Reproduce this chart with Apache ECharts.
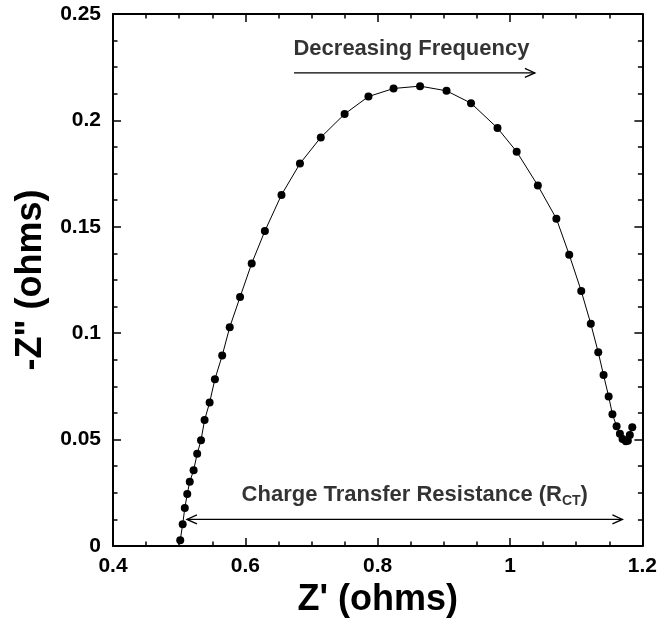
<!DOCTYPE html>
<html>
<head>
<meta charset="utf-8">
<script src="https://cdn.jsdelivr.net/npm/echarts@6/dist/echarts.min.js"></script>
<style>html,body{margin:0;padding:0;background:#fff}#c{width:660px;height:623px}</style>
</head>
<body>
<div id="c"></div>
<script>
// Nyquist data: Z' (ohms) and -Z'' (ohms), ordered by decreasing frequency
var zReal = [0.5016,0.5053,0.5085,0.5122,0.5160,0.5218,0.5272,0.5330,0.5384,0.5460,
             0.5540,0.5650,0.5764,0.5920,0.6096,0.6295,0.6546,0.6825,0.7140,0.7500,
             0.7860,0.8240,0.8640,0.9040,0.9410,0.9810,1.0100,1.0420,1.0700,1.0894,
             1.1076,1.1220,1.1333,1.1413,1.1490,1.1547,1.1610,1.1660,1.1700,1.1750,
             1.1780,1.1810,1.1847];
var zImag = [0.0027,0.0102,0.0178,0.0244,0.0302,0.0356,0.0433,0.0497,0.0592,0.0674,
             0.0784,0.0895,0.1028,0.1170,0.1328,0.1480,0.1650,0.1797,0.1920,0.2030,
             0.2112,0.2150,0.2161,0.2139,0.2081,0.1964,0.1853,0.1694,0.1538,0.1369,
             0.1198,0.1044,0.0910,0.0803,0.0703,0.0619,0.0563,0.0527,0.0503,0.0492,
             0.0495,0.0522,0.0558];

var xTickLabels = ['0.4','0.6','0.8','1','1.2'];
var yTickLabels = ['0','0.05','0.1','0.15','0.2','0.25'];

// annotation arrows: start x, end x, y, double-headed
var arrowStartX = [0.6735, 0.5117];
var arrowEndX   = [1.0375, 1.1698];
var arrowY      = [0.2223, 0.0125];
var arrowBoth   = [0, 1];

// annotation texts
var noteTexts = ['{b|Decreasing Frequency}', '{b|Charge Transfer Resistance (R}{s|CT}{b|)}'];
var noteX = [0.851, 0.856];
var noteY = [0.2335, 0.0240];

var FONT = "'Liberation Sans', Arial, sans-serif";

var points = zReal.map(function (x, i) { return [x, zImag[i]]; });
var arrows = arrowStartX.map(function (x, i) { return [x, arrowEndX[i], arrowY[i], arrowBoth[i]]; });
var notes = noteX.map(function (x, i) { return [x, noteY[i], i]; });

function xFmt(v) { var i = Math.round((v - 0.4) / 0.2); return xTickLabels[i] || ''; }
function yFmt(v) { var i = Math.round(v / 0.05); return yTickLabels[i] || ''; }

var lineStyleAxis = { color: '#000', width: 2 };
var labelStyle = { color: '#000', fontFamily: FONT, fontWeight: 'bold', fontSize: 21 };

var chart = echarts.init(document.getElementById('c'), null, { renderer: 'canvas' });
chart.setOption({
  animation: false,
  backgroundColor: '#fff',
  grid: { left: 113, right: 15, top: 14, bottom: 77, containLabel: false },
  xAxis: [
    {
      type: 'value', min: 0.4, max: 1.2, interval: 0.2, position: 'bottom',
      axisLine: { show: true, onZero: false, lineStyle: lineStyleAxis },
      axisTick: { show: true, inside: true, length: 8, lineStyle: { color: '#000', width: 1.5 } },
      minorTick: { show: true, splitNumber: 4, length: 4.5, lineStyle: { color: '#000', width: 1.5 } },
      splitLine: { show: false },
      axisLabel: Object.assign({ margin: 10, formatter: xFmt }, labelStyle),
      name: "Z' (ohms)", nameLocation: 'middle', nameGap: 36,
      nameTextStyle: { color: '#000', fontFamily: FONT, fontWeight: 'bold', fontSize: 36 }
    },
    {
      type: 'value', min: 0.4, max: 1.2, interval: 0.2, position: 'top',
      axisLine: { show: true, onZero: false, lineStyle: lineStyleAxis },
      axisTick: { show: true, inside: true, length: 8, lineStyle: { color: '#000', width: 1.5 } },
      minorTick: { show: true, splitNumber: 4, length: 4.5, lineStyle: { color: '#000', width: 1.5 } },
      splitLine: { show: false }, axisLabel: { show: false }
    }
  ],
  yAxis: [
    {
      type: 'value', min: 0, max: 0.25, interval: 0.05, position: 'left',
      axisLine: { show: true, onZero: false, lineStyle: lineStyleAxis },
      axisTick: { show: true, inside: true, length: 8, lineStyle: { color: '#000', width: 1.5 } },
      minorTick: { show: true, splitNumber: 4, length: 4.5, lineStyle: { color: '#000', width: 1.5 } },
      splitLine: { show: false },
      axisLabel: Object.assign({ margin: 12, formatter: yFmt }, labelStyle),
      name: '-Z" (ohms)', nameLocation: 'middle', nameGap: 64, nameRotate: 90,
      nameTextStyle: { color: '#000', fontFamily: FONT, fontWeight: 'bold', fontSize: 36 }
    },
    {
      type: 'value', min: 0, max: 0.25, interval: 0.05, position: 'right',
      axisLine: { show: true, onZero: false, lineStyle: lineStyleAxis },
      axisTick: { show: true, inside: true, length: 8, lineStyle: { color: '#000', width: 1.5 } },
      minorTick: { show: true, splitNumber: 4, length: 4.5, lineStyle: { color: '#000', width: 1.5 } },
      splitLine: { show: false }, axisLabel: { show: false }
    }
  ],
  series: [
    {
      type: 'line', data: points, xAxisIndex: 0, yAxisIndex: 0,
      symbol: 'circle', symbolSize: 8, showSymbol: true,
      lineStyle: { color: '#000', width: 1 },
      itemStyle: { color: '#000' },
      clip: false, z: 3
    },
    {
      type: 'custom', xAxisIndex: 0, yAxisIndex: 0, data: arrows, clip: false,
      encode: { x: [0, 1], y: 2 },
      renderItem: function (params, api) {
        var p1 = api.coord([api.value(0), api.value(2)]);
        var p2 = api.coord([api.value(1), api.value(2)]);
        var both = api.value(3);
        var hl = 10, hw = 4.5;
        var st = { stroke: '#000', lineWidth: 1.3, fill: null };
        var children = [
          { type: 'line', shape: { x1: p1[0], y1: p1[1], x2: p2[0], y2: p2[1] }, style: st },
          { type: 'polyline', shape: { points: [[p2[0] - hl, p2[1] - hw], [p2[0], p2[1]], [p2[0] - hl, p2[1] + hw]] }, style: st }
        ];
        if (both) {
          children.push({ type: 'polyline', shape: { points: [[p1[0] + hl, p1[1] - hw], [p1[0], p1[1]], [p1[0] + hl, p1[1] + hw]] }, style: st });
        }
        return { type: 'group', children: children };
      }
    },
    {
      type: 'scatter', xAxisIndex: 0, yAxisIndex: 0, data: notes, symbolSize: 0,
      silent: true, clip: false,
      label: {
        show: true, position: 'inside',
        formatter: function (p) { return noteTexts[p.data[2]]; },
        rich: {
          b: { color: '#000', fontFamily: FONT, fontWeight: 'bold', fontSize: 22, lineHeight: 26 },
          s: { color: '#000', fontFamily: FONT, fontWeight: 'bold', fontSize: 14, lineHeight: 26, verticalAlign: 'bottom' }
        }
      }
    }
  ]
});
</script>
</body>
</html>
